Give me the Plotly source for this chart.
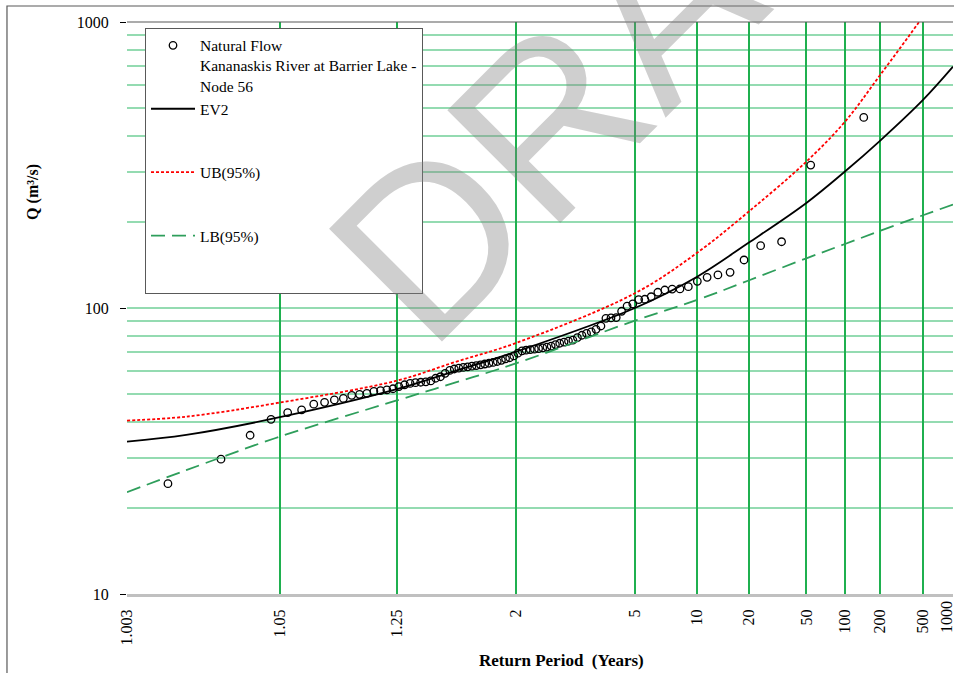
from statistics import NormalDist
import plotly.graph_objects as go

# return period axis
tick_periods = [1.003, 1.05, 1.25, 2, 5, 10, 20, 50, 100, 200, 500, 1000]
tick_labels = ["1.003", "1.05", "1.25", "2", "5", "10", "20", "50", "100", "200", "500", "1000"]

# Q axis
q_ticks = [10, 100, 1000]
q_minor = [20, 30, 40, 50, 60, 70, 80, 90, 200, 300, 400, 500, 600, 700, 800, 900]

# natural flow peaks (m3/s), ranked smallest -> largest
natural_flow = [
    24.3, 29.6, 35.9, 40.8, 43.1, 44.0, 46.1, 46.8, 47.7, 48.3,
    49.5, 49.9, 50.3, 51.1, 51.4, 51.7, 52.2, 53.1, 53.9, 54.5,
    54.8, 55.0, 55.2, 55.6, 56.8, 57.5, 59.1, 60.5, 61.2, 61.6,
    62.0, 62.3, 62.6, 62.9, 63.3, 63.7, 64.1, 64.5, 65.0, 65.6,
    66.4, 67.0, 68.0, 69.5, 70.8, 71.2, 71.5, 71.8, 72.1, 72.5,
    73.0, 73.6, 74.5, 75.3, 76.0, 76.6, 77.2, 78.8, 80.3, 81.5,
    82.5, 84.2, 86.5, 92.0, 92.3, 92.6, 97.4, 101.6, 103.3, 107.0,
    107.3, 109.5, 113.5, 115.6, 116.5, 116.6, 118.7, 124.0, 128.0, 130.5,
    133.3, 147.2, 165.1, 170.5, 316.0, 464.0,
]

# fitted frequency curves
curve_periods = [1.003, 1.01, 1.05, 1.25, 1.5, 2, 5, 10, 20, 50, 100, 200, 500, 1000]
ev2 = [34.1, 36.0, 41.5, 52.0, 60.2, 70.3, 100.0, 128.7, 169.0, 233.0, 300.0, 385.0, 534.0, 698.0]
ub95 = [40.4, 41.7, 46.7, 55.7, 64.7, 75.4, 112.6, 156.0, 217.0, 325.0, 448.0, 653.0, 1045.0, 1480.0]
lb95 = [22.7, 27.1, 35.5, 47.5, 54.8, 64.0, 90.3, 106.7, 124.8, 149.2, 167.4, 186.2, 211.0, 230.0]

nd = NormalDist()


def period_to_x(t):
    # normal probability scale of non-exceedance
    return nd.inv_cdf(1 - 1 / t)


# cunnane plotting positions for the ranked sample
n = len(natural_flow)
flow_x = [nd.inv_cdf((i - 0.4) / (n + 0.2)) for i in range(1, n + 1)]
curve_x = [period_to_x(t) for t in curve_periods]

serif = "Liberation Serif, Times New Roman, serif"

fig = go.Figure()

fig.add_trace(go.Scatter(
    x=flow_x, y=natural_flow, mode="markers",
    name="Natural Flow<br>Kananaskis River at Barrier Lake -<br>Node 56",
    legendgroup="a",
    marker=dict(symbol="circle-open", size=7.5, color="black", line=dict(width=1.3, color="black")),
))
fig.add_trace(go.Scatter(
    x=curve_x, y=ev2, mode="lines", name="EV2<br>\u00a0<br>\u00a0", legendgroup="b",
    line=dict(color="black", width=1.8, shape="spline"),
))
fig.add_trace(go.Scatter(
    x=curve_x, y=ub95, mode="lines", name="UB(95%)<br>\u00a0<br>\u00a0", legendgroup="c",
    line=dict(color="#ff0000", width=1.8, dash="3px,2px", shape="spline"),
))
fig.add_trace(go.Scatter(
    x=curve_x, y=lb95, mode="lines", name="LB(95%)<br>\u00a0<br>\u00a0", legendgroup="d",
    line=dict(color="#2e9e5b", width=1.8, dash="14px,7px", shape="spline"),
))

# last label sits on the right border; it is drawn as an annotation nudged inwards
axis_text = tick_labels[:-1] + [""]

fig.update_xaxes(
    range=[period_to_x(tick_periods[0]), period_to_x(tick_periods[-1])],
    tickmode="array", tickvals=[period_to_x(t) for t in tick_periods], ticktext=axis_text,
    tickangle=-90, tickfont=dict(family=serif, size=16, color="black"),
    ticks="", ticklabelstandoff=6, ticklabeloverflow="allow", automargin=False,
    showgrid=True, gridcolor="#1fb04f", gridwidth=2,
    showline=True, linecolor="#c0c0c0", linewidth=3,
    zeroline=False,
)
fig.update_yaxes(
    type="log", range=[1, 3],
    tickmode="array", tickvals=q_ticks, ticktext=[str(v) for v in q_ticks],
    tickfont=dict(family=serif, size=16, color="black"),
    ticks="outside", ticklen=6, tickcolor="black", ticklabelstandoff=8, automargin=False,
    showgrid=True, gridcolor="rgba(0,170,70,0.42)", gridwidth=1.5,
    minor=dict(tickmode="array", tickvals=q_minor, showgrid=True,
               gridcolor="rgba(0,170,70,0.42)", gridwidth=1.5),
    showline=False, zeroline=False,
)

fig.update_layout(
    width=954, height=673,
    margin=dict(l=127, r=1, t=22, b=79),
    paper_bgcolor="white", plot_bgcolor="white",
    showlegend=True,
    legend=dict(
        x=0.0218, y=0.99, xanchor="left", yanchor="top",
        bgcolor="white", bordercolor="#595959", borderwidth=1,
        font=dict(family=serif, size=15.5, color="black"),
        valign="top", tracegroupgap=0, itemwidth=44,
    ),
    annotations=[
        dict(text="DRAFT", xref="paper", yref="paper", x=0.627, y=0.996,
             xanchor="center", yanchor="middle", showarrow=False, textangle=-45,
             font=dict(family="Liberation Sans, Arial, sans-serif", size=232,
                       color="rgba(128,128,128,0.38)")),
        dict(text=tick_labels[-1], xref="x", yref="paper", x=period_to_x(tick_periods[-1]), y=0,
             xanchor="center", yanchor="top", xshift=-7, yshift=-5, showarrow=False, textangle=-90,
             font=dict(family=serif, size=16, color="black")),
        dict(text="Q (m³/s)", xref="paper", yref="paper", x=-0.1138, y=0.703,
             xanchor="center", yanchor="middle", showarrow=False, textangle=-90,
             font=dict(family=serif, size=16, color="black", weight="bold")),
        dict(text="Return Period\u00a0 (Years)", xref="paper", yref="paper", x=0.5266, y=-0.1154,
             xanchor="center", yanchor="middle", showarrow=False,
             font=dict(family=serif, size=17, color="black", weight="bold")),
    ],
    shapes=[
        # plot area top edge
        dict(type="line", xref="paper", yref="paper", x0=0, x1=1, y0=1, y1=1,
             line=dict(color="#595959", width=1.2)),
        # chart frame
        dict(type="rect", xref="paper", yref="paper", x0=-0.1453, x1=1.2, y0=-0.3, y1=1.028,
             line=dict(color="#595959", width=1.2)),
    ],
)

# drop the default page margin so the figure sits at the window's corner
fig.write_html(
    "out.html",
    config={"displayModeBar": False},
    post_script="document.body.style.margin='0';document.body.style.overflow='hidden';",
)
